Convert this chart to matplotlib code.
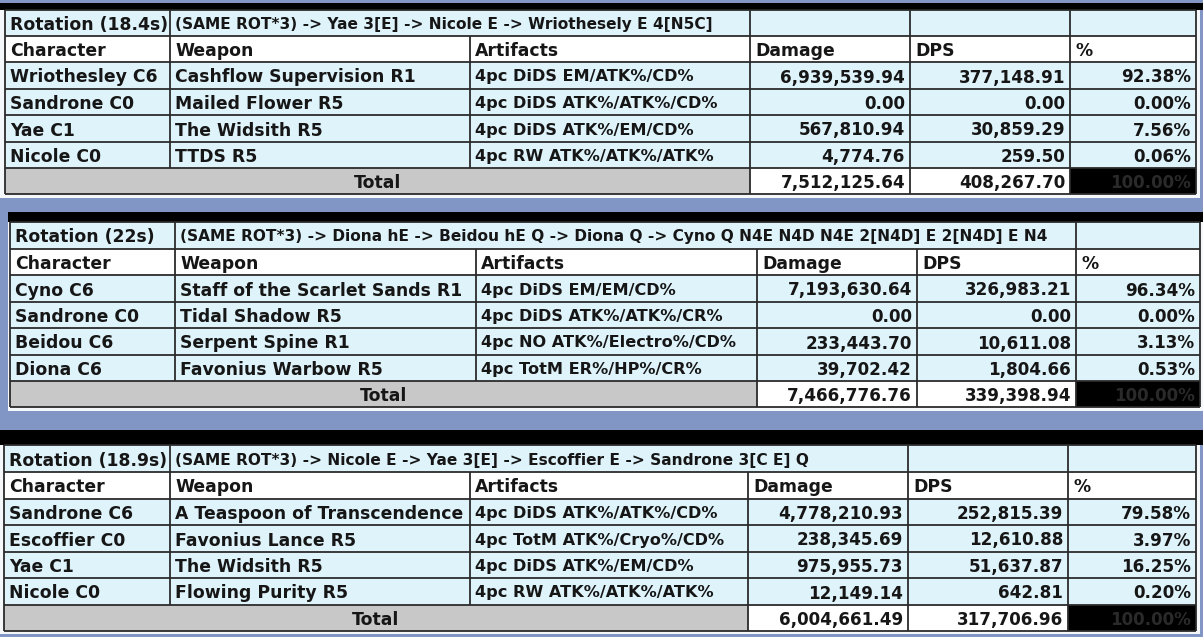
import matplotlib
matplotlib.use("Agg")
import matplotlib.pyplot as plt
from matplotlib.patches import Rectangle
from matplotlib.transforms import Bbox

# ---- data ----
HEADERS = ["Character", "Weapon", "Artifacts", "Damage", "DPS", "%"]

T1_ROT = "Rotation (18.4s)"
T1_SEQ = "(SAME ROT*3) -> Yae 3[E] -> Nicole E -> Wriothesely E 4[N5C]"
T1_CHARS = ["Wriothesley C6", "Sandrone C0", "Yae C1", "Nicole C0"]
T1_WEAPONS = ["Cashflow Supervision R1", "Mailed Flower R5", "The Widsith R5", "TTDS R5"]
T1_ARTS = ["4pc DiDS EM/ATK%/CD%", "4pc DiDS ATK%/ATK%/CD%",
           "4pc DiDS ATK%/EM/CD%", "4pc RW ATK%/ATK%/ATK%"]
T1_DMG = [6939539.94, 0.00, 567810.94, 4774.76]
T1_DPS = [377148.91, 0.00, 30859.29, 259.50]
T1_PCT = [92.38, 0.00, 7.56, 0.06]
T1_TOTAL = [7512125.64, 408267.70, 100.00]

T2_ROT = "Rotation (22s)"
T2_SEQ = ("(SAME ROT*3) -> Diona hE -> Beidou hE Q -> Diona Q -> "
          "Cyno Q N4E N4D N4E 2[N4D] E 2[N4D] E N4")
T2_CHARS = ["Cyno C6", "Sandrone C0", "Beidou C6", "Diona C6"]
T2_WEAPONS = ["Staff of the Scarlet Sands R1", "Tidal Shadow R5",
              "Serpent Spine R1", "Favonius Warbow R5"]
T2_ARTS = ["4pc DiDS EM/EM/CD%", "4pc DiDS ATK%/ATK%/CR%",
           "4pc NO ATK%/Electro%/CD%", "4pc TotM ER%/HP%/CR%"]
T2_DMG = [7193630.64, 0.00, 233443.70, 39702.42]
T2_DPS = [326983.21, 0.00, 10611.08, 1804.66]
T2_PCT = [96.34, 0.00, 3.13, 0.53]
T2_TOTAL = [7466776.76, 339398.94, 100.00]

T3_ROT = "Rotation (18.9s)"
T3_SEQ = "(SAME ROT*3) -> Nicole E -> Yae 3[E] -> Escoffier E -> Sandrone 3[C E] Q"
T3_CHARS = ["Sandrone C6", "Escoffier C0", "Yae C1", "Nicole C0"]
T3_WEAPONS = ["A Teaspoon of Transcendence R1", "Favonius Lance R5",
              "The Widsith R5", "Flowing Purity R5"]
T3_ARTS = ["4pc DiDS ATK%/ATK%/CD%", "4pc TotM ATK%/Cryo%/CD%",
           "4pc DiDS ATK%/EM/CD%", "4pc RW ATK%/ATK%/ATK%"]
T3_DMG = [4778210.93, 238345.69, 975955.73, 12149.14]
T3_DPS = [252815.39, 12610.88, 51637.87, 642.81]
T3_PCT = [79.58, 3.97, 16.25, 0.20]
T3_TOTAL = [6004661.49, 317706.96, 100.00]

# ---- layout (pixels) ----
W, H = 1203, 637
LIGHT = "#dff3fb"
GRID = "#2b2b2b"
INK = "#161616"
FONT = "DejaVu Sans"
FS_MAIN, FS_NUM, FS_ART, FS_SEQ = 12.4, 12.1, 11.6, 11.1

fig = plt.figure(figsize=(W / 100, H / 100), dpi=100, facecolor="#8196c4")
ax = fig.add_axes([0, 0, 1, 1])
ax.set_xlim(0, W); ax.set_ylim(H, 0); ax.axis("off")


def rect(x0, y0, x1, y1, fc, z=1):
    ax.add_patch(Rectangle((x0, y0), x1 - x0, y1 - y0, fc=fc, ec="none", lw=0, zorder=z))


def line(x0, y0, x1, y1):
    ax.plot([x0, x1], [y0, y1], color=GRID, lw=1.3, zorder=3, solid_capstyle="butt")


def txt(x, y, s, ha="left", size=FS_MAIN, color=INK, clip=None):
    t = ax.text(x, y, s, ha=ha, va="center_baseline", fontsize=size, fontweight="bold",
                family=FONT, color=color, zorder=5)
    if clip is not None:
        # clip to a cell given in data coords -> display bbox
        (ax0, ay0), (ax1, ay1) = ax.transData.transform([clip[:2], clip[2:]])
        t.set_clip_box(Bbox.from_extents(min(ax0, ax1), min(ay0, ay1),
                                         max(ax0, ax1), max(ay0, ay1)))
        t.set_clip_on(True)


def draw_table(cols, rows, band, frame, seq_end, rot, seq, chars, weapons, arts,
               dmg, dps, pct, total):
    rect(*frame, "#f4f8fb")                          # light outer rim
    rect(*band, "black", z=2)
    c = cols; r = rows
    pad = 5
    rect(c[0], r[0], c[-1], r[1], LIGHT, z=2)        # rotation row
    rect(c[0], r[1], c[-1], r[2], "white", z=2)      # header row
    rect(c[0], r[2], c[-1], r[6], LIGHT, z=2)        # data rows
    rect(c[0], r[6], c[3], r[7], "#c8c8c8", z=2)     # total row
    rect(c[3], r[6], c[5], r[7], "white", z=2)
    rect(c[5], r[6], c[6], r[7], "black", z=2)
    for y in r:
        line(c[0], y, c[-1], y)
    line(c[0], r[0], c[0], r[-1])
    line(c[-1], r[0], c[-1], r[-1])
    line(c[1], r[0], c[1], r[6])
    line(c[2], r[1], c[2], r[6])
    for i in (3, 4, 5):
        line(c[i], r[0] if i >= seq_end else r[1], c[i], r[-1])

    def mid(k):
        return (r[k] + r[k + 1]) / 2

    txt(c[0] + pad, mid(0), rot)
    txt(c[1] + pad, mid(0), seq, size=FS_SEQ)
    for j, h in enumerate(HEADERS):
        txt(c[j] + pad, mid(1), h)
    for i in range(len(chars)):
        y = mid(2 + i)
        txt(c[0] + pad, y, chars[i])
        txt(c[1] + pad, y, weapons[i], clip=(c[1], r[2 + i], c[2] - 1, r[3 + i]))
        txt(c[2] + pad, y, arts[i], size=FS_ART)
        txt(c[4] - pad, y, f"{dmg[i]:,.2f}", ha="right", size=FS_NUM)
        txt(c[5] - pad, y, f"{dps[i]:,.2f}", ha="right", size=FS_NUM)
        txt(c[6] - pad, y, f"{pct[i]:.2f}%", ha="right", size=FS_NUM)
    y = mid(6)
    txt((c[0] + c[3]) / 2, y, "Total", ha="center")
    txt(c[4] - pad, y, f"{total[0]:,.2f}", ha="right", size=FS_NUM)
    txt(c[5] - pad, y, f"{total[1]:,.2f}", ha="right", size=FS_NUM)
    txt(c[6] - pad, y, f"{total[2]:.2f}%", ha="right", size=FS_NUM, color="#2a2a2a")


draw_table([5, 170, 470, 750, 910, 1070, 1196],
           [10, 36, 62, 89, 115, 142, 168, 194],
           (0, 3, W, 10), (0, 3, 1200, 198), 3,
           T1_ROT, T1_SEQ, T1_CHARS, T1_WEAPONS, T1_ARTS, T1_DMG, T1_DPS, T1_PCT, T1_TOTAL)

draw_table([10, 175, 476, 757, 917, 1076, 1200],
           [222, 249, 275, 302, 328, 355, 381, 407],
           (8, 212, W, 222), (8, 212, W, 411), 5,
           T2_ROT, T2_SEQ, T2_CHARS, T2_WEAPONS, T2_ARTS, T2_DMG, T2_DPS, T2_PCT, T2_TOTAL)

draw_table([4, 170, 470, 748, 908, 1068, 1196],
           [445, 472, 499, 525, 552, 578, 605, 631],
           (0, 430, W, 445), (0, 430, 1200, 634), 4,
           T3_ROT, T3_SEQ, T3_CHARS, T3_WEAPONS, T3_ARTS, T3_DMG, T3_DPS, T3_PCT, T3_TOTAL)

fig.savefig("out.png", dpi=100, facecolor=fig.get_facecolor())
